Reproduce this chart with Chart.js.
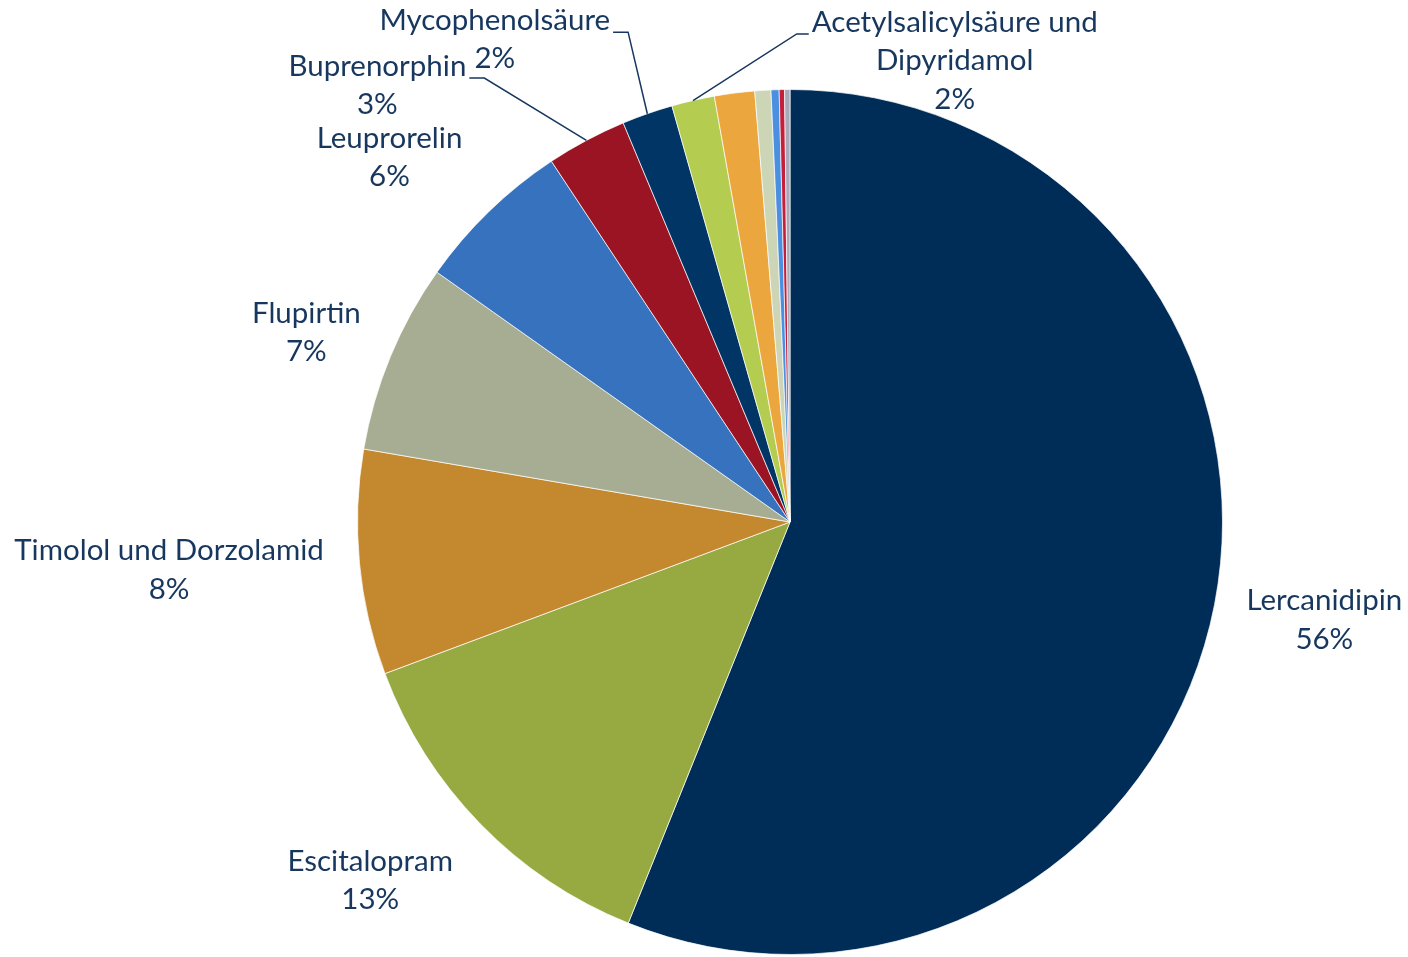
<!DOCTYPE html>
<html>
<head>
<meta charset="utf-8">
<script src="https://cdn.jsdelivr.net/npm/chart.js@4/dist/chart.umd.min.js"></script>
<style>
  html, body { margin: 0; padding: 0; background: #fff; }
  #wrap { width: 1408px; height: 957px; }
</style>
</head>
<body>
<div id="wrap"><canvas id="chart" width="1408" height="957"></canvas></div>
<script>
// slice names, clockwise from 12 o'clock (last five have no label in the source)
const categories = [
  'Lercanidipin', 'Escitalopram', 'Timolol und Dorzolamid', 'Flupirtin', 'Leuprorelin',
  'Buprenorphin', 'Mycophenolsäure', 'Acetylsalicylsäure und Dipyridamol',
  '', '', '', '', ''
]
// share in percent
const shares = [56.1, 13.2, 8.4, 7.1, 5.9, 3.0, 1.9, 1.6, 1.5, 0.6, 0.3, 0.2, 0.2]
// printed percentage labels
const pctLabels = ['56%', '13%', '8%', '7%', '6%', '3%', '2%', '2%', null, null, null, null, null]
// how the category name is broken into lines
const nameLines = [
  ['Lercanidipin'], ['Escitalopram'], ['Timolol und Dorzolamid'], ['Flupirtin'], ['Leuprorelin'],
  ['Buprenorphin'], ['Mycophenolsäure'], ['Acetylsalicylsäure und', 'Dipyridamol'],
  null, null, null, null, null
]

const colors = [
  '#002d57', '#97aa41', '#c4882f', '#a7ad92', '#3672bd', '#9a1424', '#003565',
  '#b4cc50', '#eba63d', '#ccd5b5', '#4a8fe0', '#c41e3a', '#a7a9b8'
]

// label placement: angle shift from the slice middle (deg) and distance in radii
const labelPlace = [
  [-0.6, 1.256], [3.8, 1.276], [1.0, 1.44], [-1.1, 1.201], [-3.6, 1.252],
  [-15.3, 1.389], [-12.2, 1.308], [32.6, 1.133]
]
const leaderFor = [5, 6, 7]
const TEXT_COLOR = '#17375e'
const FONT = '29.5px Lato, "Open Sans", sans-serif'
const LINE_H = 38.5

const labelPlugin = {
  id: 'pieLabels',
  afterDatasetsDraw(chart) {
    const ctx = chart.ctx
    const meta = chart.getDatasetMeta(0)
    ctx.save()
    ctx.font = FONT
    ctx.fillStyle = TEXT_COLOR
    ctx.strokeStyle = TEXT_COLOR
    ctx.lineWidth = 1.5
    ctx.textAlign = 'center'
    ctx.textBaseline = 'middle'
    meta.data.forEach((arc, i) => {
      if (!nameLines[i] || !labelPlace[i]) return
      const { x, y, startAngle, endAngle, outerRadius } = arc.getProps(['x', 'y', 'startAngle', 'endAngle', 'outerRadius'], true)
      const mid = (startAngle + endAngle) / 2
      const a = mid + labelPlace[i][0] * Math.PI / 180
      const d = outerRadius * labelPlace[i][1]
      const cx = x + Math.cos(a) * d
      const cy = y + Math.sin(a) * d
      const lines = nameLines[i].concat([pctLabels[i]])
      const top = cy - (lines.length - 1) * LINE_H / 2
      lines.forEach((t, k) => ctx.fillText(t, cx, top + k * LINE_H))

      if (leaderFor.includes(i)) {
        const w = ctx.measureText(lines[0]).width
        const ly = top + 12
        const ex = x + Math.cos(mid) * outerRadius
        const ey = y + Math.sin(mid) * outerRadius
        const right = ex > cx
        const sx = right ? cx + w / 2 + 3 : cx - w / 2 - 3
        const bx = right ? sx + 15 : sx - 12
        ctx.beginPath()
        ctx.moveTo(sx, ly)
        ctx.lineTo(bx, ly)
        ctx.lineTo(ex, ey)
        ctx.stroke()
      }
    })
    ctx.restore()
  }
}

new Chart(document.getElementById('chart'), {
  type: 'pie',
  data: {
    labels: categories,
    datasets: [{
      data: shares,
      backgroundColor: colors,
      borderColor: 'rgba(255,255,255,0.7)',
      borderWidth: 1,
      hoverOffset: 0
    }]
  },
  options: {
    responsive: false,
    animation: false,
    layout: { padding: { left: 357, right: 185, top: 89, bottom: 2 } },
    plugins: {
      legend: { display: false },
      tooltip: { enabled: false }
    }
  },
  plugins: [labelPlugin]
})
</script>
</body>
</html>
